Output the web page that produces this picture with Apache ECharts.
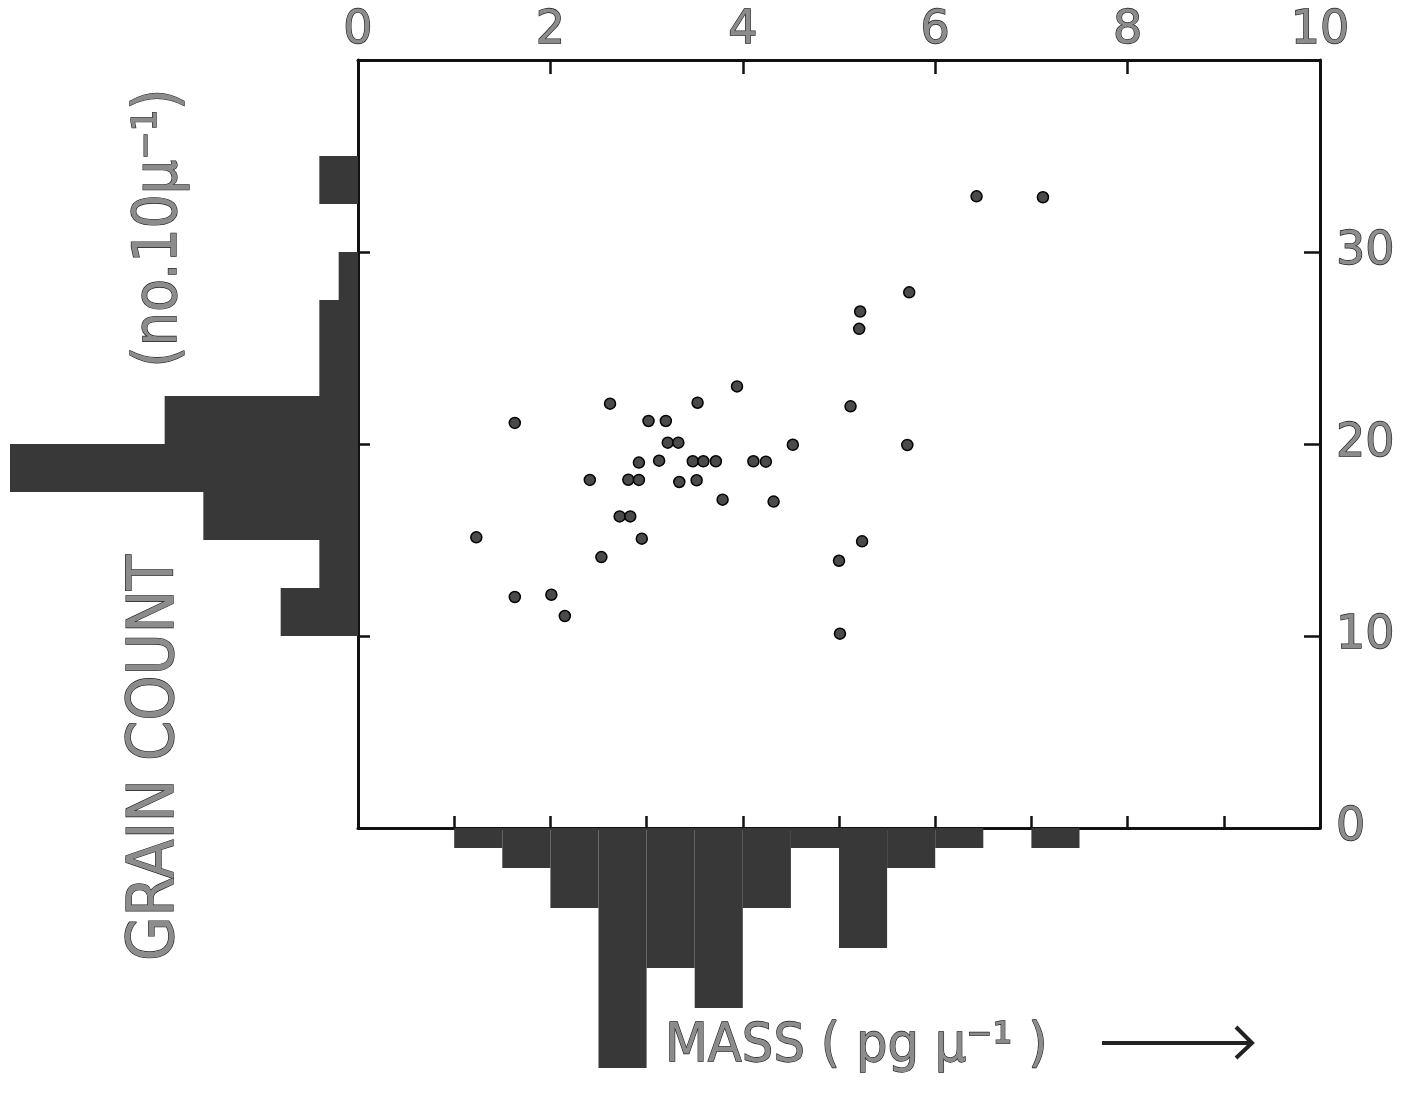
<!DOCTYPE html>
<html lang="en">
  <head>
    <meta charset="utf-8">
    <title>grain count vs mass</title>
    <script src="https://cdn.jsdelivr.net/npm/echarts@6/dist/echarts.min.js"></script>
    <style>
      html, body { margin: 0; padding: 0; background: #fff; }
      #chart { width: 1420px; height: 1094px; }
    </style>
  </head>
  <body>
    <div id="chart"></div>

    <script>
      // scatter points: mass (pg/u) and grain count (no. per 10 u)
      var pointMass = [3.94, 2.62, 3.53, 1.63, 3.02, 3.20, 3.22, 3.33, 4.52, 2.92,
                       3.13, 3.48, 3.59, 3.72, 4.11, 4.24, 2.41, 2.81, 2.92, 3.34,
                       3.52, 3.79, 4.32, 2.72, 2.83, 1.23, 2.95, 2.53, 5.00, 1.63,
                       2.01, 2.15, 5.01, 6.43, 7.12, 5.73, 5.22, 5.21, 5.12, 5.71,
                       5.24];
      var pointGrain = [23.0, 22.1, 22.15, 21.1, 21.2, 21.2, 20.07, 20.07, 19.96, 19.03,
                        19.13, 19.1, 19.1, 19.1, 19.1, 19.08, 18.13, 18.14, 18.13, 18.02,
                        18.11, 17.1, 17.0, 16.23, 16.23, 15.14, 15.07, 14.11, 13.92, 12.03,
                        12.15, 11.04, 10.12, 32.9, 32.85, 27.9, 26.9, 26.0, 21.96, 19.95,
                        14.93];

      // grain count histogram (left), bins of 2.5
      var grainBins = ['0-2.5', '2.5-5', '5-7.5', '7.5-10', '10-12.5', '12.5-15', '15-17.5', '17.5-20',
                       '20-22.5', '22.5-25', '25-27.5', '27.5-30', '30-32.5', '32.5-35', '35-37.5', '37.5-40'];
      var grainCounts = [0, 0, 0, 0, 4, 2, 8, 18, 10, 2, 2, 1, 0, 2, 0, 0];

      // mass histogram (bottom), bins of 0.5
      var massBins = ['0-0.5', '0.5-1', '1-1.5', '1.5-2', '2-2.5', '2.5-3', '3-3.5', '3.5-4', '4-4.5', '4.5-5',
                      '5-5.5', '5.5-6', '6-6.5', '6.5-7', '7-7.5', '7.5-8', '8-8.5', '8.5-9', '9-9.5', '9.5-10'];
      var massCounts = [0, 0, 1, 2, 4, 12, 7, 9, 4, 1, 6, 2, 1, 0, 1, 0, 0, 0, 0, 0];

      var massTicks = [0, 2, 4, 6, 8, 10];
      var grainTicks = [0, 10, 20, 30];

      var INK = '#111';
      var letterStyle = {
        color: '#8c8c8c',
        textBorderColor: '#1e1e1e',
        textBorderWidth: 1.3,
        fontFamily: 'DejaVu Sans',
        fontSize: 46
      };

      function outlinedText(x, y, text, size, rot, sx, align){
        return {
          type: 'text',
          x: x, y: y,
          rotation: rot || 0,
          scaleX: sx || 1,
          style: {
            text: text,
            fill: '#8c8c8c',
            stroke: '#1e1e1e',
            lineWidth: 1.3,
            font: 'normal ' + size + 'px "DejaVu Sans"',
            align: align || 'center',
            verticalAlign: 'middle'
          }
        };
      }

      function frameAxis(extra){
        var ax = {
          axisLine: {onZero: false, lineStyle: {color: INK, width: 3}},
          axisTick: {inside: true, length: 12, lineStyle: {color: INK, width: 2.5}},
          axisLabel: {show: false},
          splitLine: {show: false}
        };
        return Object.assign(ax, extra);
      }

      function ini_chart(){
        var chart = echarts.init(document.getElementById('chart'));

        var pts = [];
        for (var i = 0; i < pointMass.length; i++){
          pts.push([pointMass[i], pointGrain[i]]);
        }

        var histStyle = {color: '#383838', borderWidth: 0};

        chart.setOption({
          animation: false,
          backgroundColor: '#fff',
          grid: [
            {left: 358, right: 100, top: 60, bottom: 266},
            {left: 10, width: 348, top: 60, bottom: 266},
            {left: 358, right: 100, top: 828, height: 240}
          ],
          xAxis: [
            frameAxis({
              gridIndex: 0, type: 'value', position: 'top', min: 0, max: 10, interval: 2,
              axisTick: {inside: true, length: 14, lineStyle: {color: INK, width: 2.5}},
              axisLabel: Object.assign({margin: 6, formatter: function(v){
                return massTicks.indexOf(v) >= 0 ? String(v) : '';
              }}, letterStyle)
            }),
            frameAxis({gridIndex: 0, type: 'value', position: 'bottom', min: 0, max: 10, interval: 1}),
            {gridIndex: 1, type: 'value', inverse: true, min: 0, max: 18, show: false},
            {gridIndex: 2, type: 'category', data: massBins, show: false}
          ],
          yAxis: [
            frameAxis({
              gridIndex: 0, type: 'value', position: 'right', min: 0, max: 40, interval: 10,
              axisTick: {inside: true, length: 16, lineStyle: {color: INK, width: 2.5}},
              axisLabel: Object.assign({margin: 16, formatter: function(v){
                return grainTicks.indexOf(v) >= 0 ? String(v) : '';
              }}, letterStyle)
            }),
            frameAxis({gridIndex: 0, type: 'value', position: 'left', min: 0, max: 40, interval: 10}),
            {gridIndex: 1, type: 'category', data: grainBins, show: false},
            {gridIndex: 2, type: 'value', inverse: true, min: 0, max: 12, show: false}
          ],
          series: [
            {
              type: 'bar', xAxisIndex: 2, yAxisIndex: 2,
              data: grainCounts, barCategoryGap: '0%', itemStyle: histStyle
            },
            {
              type: 'bar', xAxisIndex: 3, yAxisIndex: 3,
              data: massCounts, barCategoryGap: '0%', itemStyle: histStyle
            },
            {
              type: 'scatter', xAxisIndex: 0, yAxisIndex: 0, z: 5,
              data: pts, symbolSize: 11,
              itemStyle: {color: '#4a4a4a', borderColor: '#000', borderWidth: 1.5, opacity: 1}
            }
          ],
          graphic: [
            outlinedText(156, 758, 'GRAIN COUNT', 64, Math.PI / 2, 0.9),
            outlinedText(160, 228, '(no.10\u03bc\u207b\u00b9)', 60, Math.PI / 2, 0.9),
            outlinedText(665, 1047, 'MASS ( pg \u03bc\u207b\u00b9 )', 54, 0, 0.92, 'left'),
            {
              type: 'line', shape: {x1: 1102, y1: 1043, x2: 1250, y2: 1043},
              style: {stroke: '#222', lineWidth: 4}
            },
            {
              type: 'polyline', shape: {points: [[1236, 1027], [1252, 1043], [1236, 1058]]},
              style: {stroke: '#222', lineWidth: 4, fill: null}
            }
          ]
        });
      }

      ini_chart();
    </script>
  </body>
</html>
